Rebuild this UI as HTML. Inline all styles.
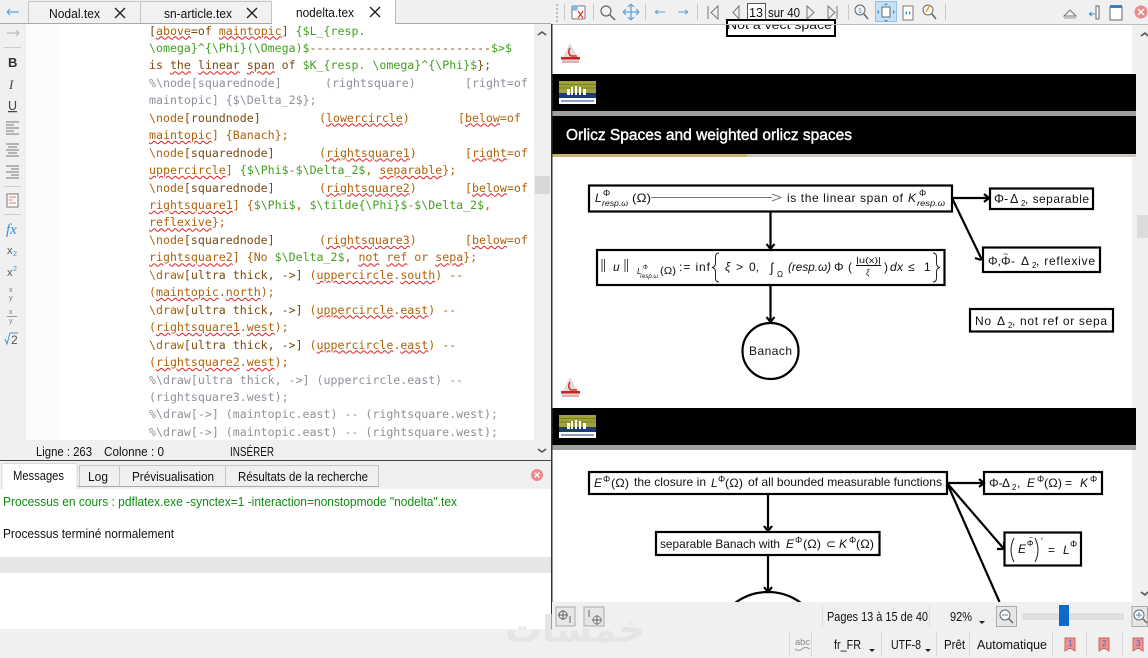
<!DOCTYPE html>
<html><head><meta charset="utf-8"><style>
html,body{margin:0;padding:0;width:1148px;height:658px;overflow:hidden;background:#f0f0f0}
svg{position:absolute;left:0;top:0}
svg svg{position:static}
svg text{font-family:"Liberation Sans",sans-serif}
.u{font-size:13px;fill:#111}
.m{font-size:12px;fill:#111}
.i{font-style:italic}
#ed{position:absolute;left:149px;top:23.5px;width:385px;height:416px;overflow:hidden}
.l{position:absolute;left:0;white-space:pre;font:11.6px/16px "DejaVu Sans Mono",monospace;color:#b0620a;height:17px;overflow:visible}
.l span.a{position:absolute;top:0}
.g{color:#41a020}.c{color:#8d9299}.d{color:#7a4a10}.t{color:#333}
.s{text-decoration:underline wavy #e02020 1px;text-underline-offset:1px}
</style></head><body>
<svg width="1148" height="658" viewBox="0 0 1148 658" xmlns="http://www.w3.org/2000/svg">
<rect width="1148" height="658" fill="#f0f0f0"/>
<!-- LEFT PANE -->
<rect x="26" y="24" width="34" height="416" fill="#fbfbfb"/>
<rect x="60" y="24" width="474" height="416" fill="#fff"/>
<rect x="534" y="24" width="17" height="416" fill="#f0f0f0"/>
<rect x="535" y="176" width="15" height="18" fill="#d8d8d8"/>
<path d="M538 35l4-3 4 3M538 449l4 3 4-3" fill="none" stroke="#555" stroke-width="1.6"/>
<!-- tabs -->
<rect x="28.500" y="1.500" width="243" height="22" fill="#f1f1f1" stroke="#c4c4c4"/>
<line x1="140.500" y1="1" x2="140.500" y2="23" stroke="#c4c4c4"/>
<line x1="0" y1="23.500" x2="551" y2="23.500" stroke="#a8a8a8"/>
<rect x="272" y="0" width="123" height="24" fill="#fff"/>
<line x1="395.500" y1="0" x2="395.500" y2="23" stroke="#bbb"/>
<text x="49" y="18" class="u" textLength="51" lengthAdjust="spacingAndGlyphs">Nodal.tex</text>
<text x="164" y="18" class="u" textLength="68" lengthAdjust="spacingAndGlyphs">sn-article.tex</text>
<text x="296" y="17" class="u" textLength="58" lengthAdjust="spacingAndGlyphs">nodelta.tex</text>
<path d="M115 8l10 10m0-10l-10 10M247 8l10 10m0-10l-10 10M370 7l10 10m0-10l-10 10" stroke="#222" stroke-width="1.4" fill="none"/>
<!-- left toolbar -->
<path d="M7 12h12M7 12l3-3M7 12l3 3" stroke="#5a9fd8" stroke-width="1.2" fill="none"/>
<path d="M7 33h12M19 33l-3-3M19 33l-3 3" stroke="#bbb" stroke-width="1.2" fill="none"/>
<line x1="4" y1="47.500" x2="21" y2="47.500" stroke="#ccc"/>
<text x="8" y="67" font-size="13" font-weight="bold" fill="#333">B</text>
<text x="9" y="89" font-size="13" font-style="italic" fill="#444" style="font-family:'Liberation Serif',serif">I</text>
<text x="8" y="110" font-size="12.500" fill="#444" text-decoration="underline">U</text>
<path d="M6 122h13M6 125h8M6 128h13M6 131h8M6 134h13M6 144h13M8 147h9M6 150h13M8 153h9M6 156h13M6 166h13M11 169h8M6 172h13M11 175h8M6 178h13" stroke="#777" stroke-width="1" fill="none"/>
<line x1="4" y1="186.500" x2="21" y2="186.500" stroke="#ccc"/>
<rect x="7" y="194" width="11" height="13" fill="#fff" stroke="#777"/>
<path d="M9 197h7M9 200h4M9 203h7" stroke="#e07070"/>
<line x1="4" y1="214.500" x2="21" y2="214.500" stroke="#ccc"/>
<text x="6" y="234" font-size="15" font-style="italic" fill="#3a8fd0" style="font-family:'Liberation Serif',serif">fx</text>
<text x="7" y="254" font-size="11" fill="#555">x</text><text x="13" y="256" font-size="7" fill="#4a90d0">2</text>
<text x="7" y="276" font-size="11" fill="#555">x</text><text x="13" y="271" font-size="7" fill="#4a90d0">2</text>
<text x="9" y="292" font-size="7" fill="#777">x</text><text x="9" y="300" font-size="7" fill="#777">y</text>
<text x="9" y="314" font-size="7" fill="#777">x</text><line x1="7" y1="316.500" x2="17" y2="316.500" stroke="#999"/><text x="9" y="323" font-size="7" fill="#777">y</text>
<text x="11" y="344" font-size="12" fill="#555">2</text><path d="M5 339l2 5 3-11h8" fill="none" stroke="#4a90d0"/>
<!-- status + messages -->
<text x="36" y="456" class="u" textLength="56" lengthAdjust="spacingAndGlyphs">Ligne : 263</text>
<text x="104" y="456" class="u" textLength="60" lengthAdjust="spacingAndGlyphs">Colonne : 0</text>
<text x="230" y="456" class="u" textLength="44" lengthAdjust="spacingAndGlyphs">INSÉRER</text>
<rect x="0" y="460" width="552" height="1" fill="#444"/>
<rect x="79.500" y="465.500" width="299" height="21" fill="#f0f0f0" stroke="#c6c6c6"/>
<line x1="119.500" y1="466" x2="119.500" y2="487" stroke="#c6c6c6"/>
<line x1="225.500" y1="466" x2="225.500" y2="487" stroke="#c6c6c6"/>
<line x1="78" y1="486.500" x2="379" y2="486.500" stroke="#aaa"/>
<rect x="2" y="463.500" width="75" height="26" fill="#fff" stroke="#d8d8d8"/>
<text x="13" y="480" class="u" textLength="51" lengthAdjust="spacingAndGlyphs">Messages</text>
<text x="88" y="481" class="u" textLength="20" lengthAdjust="spacingAndGlyphs">Log</text>
<text x="132" y="481" class="u" textLength="82" lengthAdjust="spacingAndGlyphs">Prévisualisation</text>
<text x="238" y="481" class="u" textLength="130" lengthAdjust="spacingAndGlyphs">Résultats de la recherche</text>
<circle cx="537" cy="475" r="6" fill="#ee8a8a"/>
<path d="M534.500 472.500l5 5m0-5l-5 5" stroke="#fff" stroke-width="1.400"/>
<rect x="0" y="489" width="552" height="68" fill="#fff"/>
<rect x="0" y="557" width="552" height="16" fill="#e6e6e6"/>
<rect x="0" y="573" width="552" height="56" fill="#fff"/>
<text x="3" y="506" font-size="12.500" fill="#128a12" textLength="454" lengthAdjust="spacingAndGlyphs">Processus en cours : pdflatex.exe -synctex=1 -interaction=nonstopmode "nodelta".tex</text>
<text x="3" y="538" class="u" textLength="171" lengthAdjust="spacingAndGlyphs">Processus terminé normalement</text>

<!-- PDF PANE -->
<rect x="552" y="24" width="580" height="578" fill="#fff"/>
<rect x="552" y="0" width="596" height="24" fill="#f0f0f0"/>
<rect x="1136" y="25" width="12" height="577" fill="#f0f0f0"/>
<rect x="1137" y="215" width="11" height="23" fill="#dcdcdc"/>
<path d="M1141 36l4-3 3 3M1141 592l4 3 3-3" fill="none" stroke="#555" stroke-width="1.6"/>
<!-- toolbar icons -->
<path d="M557 4v18" stroke="#aaa" stroke-dasharray="2 2" stroke-width="1.500"/>
<g stroke="#c8c8c8"><line x1="564.500" y1="4" x2="564.500" y2="20"/><line x1="593.500" y1="4" x2="593.500" y2="20"/><line x1="645.500" y1="4" x2="645.500" y2="20"/><line x1="697.500" y1="4" x2="697.500" y2="20"/><line x1="848.500" y1="4" x2="848.500" y2="20"/><line x1="945.500" y1="4" x2="945.500" y2="20"/></g>
<rect x="572" y="6" width="13" height="13" rx="1" fill="#fff" stroke="#777"/><path d="M578 11l5 7m-5 0l5-7" stroke="#d33" stroke-width="1.200"/><circle cx="575" cy="8" r="3" fill="#8bb8de"/>
<circle cx="606" cy="11" r="5" fill="none" stroke="#666" stroke-width="1.200"/><path d="M610 15l5 5" stroke="#666" stroke-width="1.500"/>
<path d="M631 5v14M624 12h14M631 4l-3 3m3-3l3 3M631 20l-3-3m3 3l3-3M623 12l3-3m-3 3l3 3M639 12l-3-3m3 3l-3 3" stroke="#5a9fd8" fill="none" stroke-width="1.200"/>
<path d="M655 12h10M655 12l3-2M655 12l3 2M678 12h10M688 12l-3-2M688 12l-3 2" stroke="#5a9fd8" fill="none"/>
<path d="M708 6v13M718 6l-7 6.500 7 6.500zM739 6l-6 6.500 6 6.500zM807 6l7 6.500-7 6.500zM828 6l7 6.500-7 6.500zM837 6v13" stroke="#777" fill="none"/>
<rect x="747.500" y="3.500" width="18" height="17" fill="#fff" stroke="#555"/>
<text x="749" y="17" class="u" textLength="14" lengthAdjust="spacingAndGlyphs">13</text>
<text x="768" y="17" class="u" textLength="32" lengthAdjust="spacingAndGlyphs">sur 40</text>
<circle cx="860" cy="10" r="5" fill="none" stroke="#666"/><path d="M864 14l4 5" stroke="#666" stroke-width="1.500"/><text x="858" y="13" font-size="7" fill="#3a8fd0">1</text>
<rect x="875.500" y="1.500" width="21" height="20" fill="#c6e1f6" stroke="#93c2e8"/>
<rect x="882" y="7" width="8" height="10" fill="#fff" stroke="#666"/><path d="M886 3l-2 2h4zM886 22l-2-2h4zM877 12l2-2v4zM895 12l-2-2v4z" fill="#3a8fd0"/>
<rect x="903" y="6" width="10" height="14" fill="#fff" stroke="#777"/><path d="M905 13l2-2v4zM911 13l-2-2v4z" fill="#3a8fd0"/>
<circle cx="928" cy="10" r="5" fill="#fff" stroke="#666"/><path d="M932 14l4 5" stroke="#666" stroke-width="1.500"/><path d="M926 12l4-7" stroke="#e0a030" stroke-width="1.500"/>
<path d="M1064 16l6-6 6 6z" fill="none" stroke="#777"/><line x1="1064" y1="18" x2="1076" y2="18" stroke="#999"/>
<path d="M1089 14h6M1089 14l3-2M1089 14l3 2" stroke="#3a8fd0" fill="none"/><rect x="1096" y="6" width="3" height="13" fill="#fff" stroke="#666"/>
<rect x="1110" y="7" width="12" height="13" fill="#fff" stroke="#666"/><rect x="1110" y="5" width="12" height="3" fill="#3a7fc0"/>
<circle cx="1141" cy="12" r="6.500" fill="#ee8a8a"/><path d="M1138 9l6 6m0-6l-6 6" stroke="#fff" stroke-width="1.400"/>

<!-- page header 1 -->
<rect x="727" y="20" width="108" height="16" fill="#fff" stroke="#000" stroke-width="2"/>
<svg x="552" y="25" width="580" height="20"><text x="175" y="4" font-size="12" fill="#111" textLength="105" lengthAdjust="spacingAndGlyphs">Not a vect space</text></svg>
<rect x="552" y="24" width="596" height="1" fill="#bdbdbd"/>
<path d="M562 61l8-17 9 17z" fill="#e4dedc" stroke="#c8bcb8" stroke-width=".5"/><path d="M570 48q-3 5 1 8h6" fill="none" stroke="#d03030" stroke-width="1.500"/><rect x="561" y="57" width="19" height="2.500" fill="#cc2222"/><rect x="562" y="61" width="17" height="2" fill="#e0b0b0"/>
<rect x="552" y="74" width="584" height="37" fill="#000"/>
<rect x="552" y="111" width="584" height="5" fill="#a0a0a0"/>
<rect x="552" y="116" width="584" height="38" fill="#000"/>
<rect x="552" y="154" width="195" height="3" fill="#c8b272"/>
<rect x="747" y="154" width="389" height="3" fill="#cdc9bd"/>
<rect x="559" y="81" width="37" height="23" fill="#fff"/><rect x="559" y="81" width="37" height="13" fill="#a0a23a"/><path d="M559 84.500h37M559 88h37" stroke="#7c7e24"/><rect x="559" y="93" width="37" height="5" fill="#1f3a78"/><path d="M567 95v-6h3v6zM571 95v-8h2v8zM575 95v-9h2v9zM579 95v-8h2v8zM583 95v-6h3v6z" fill="#fff"/><rect x="561" y="100" width="33" height="2" fill="#8aa0c0"/>
<text x="566" y="140" font-size="15.500" fill="#fff" stroke="#fff" stroke-width=".4" textLength="286" lengthAdjust="spacing">Orlicz Spaces and weighted orlicz spaces</text>

<!-- DIAGRAM 1 -->
<g fill="none" stroke="#000" stroke-width="2.200">
<path d="M770.500 212v37M770.500 285v37M952 198h37M952 198l30 62"/>
<rect x="589" y="185.500" width="363" height="26" fill="#fff"/>
<rect x="597" y="250" width="347.500" height="35" fill="#fff"/>
<rect x="990" y="188.500" width="103" height="20.500" fill="#fff"/>
<rect x="983" y="247.500" width="117" height="24.500" fill="#fff"/>
<rect x="970" y="309" width="143" height="22.500" fill="#fff"/>
<circle cx="770.500" cy="351" r="28" fill="#fff"/>
<path d="M766.500 244l4 5 4-5M766.500 317l4 5 4-5M984 194l5 4-5 4M975 258l6 2"/>
</g>
<text x="595" y="202" class="m i" font-size="12.500">L</text><text x="603" y="196" font-size="9" fill="#111">Φ</text><text x="602" y="206" font-size="8" class="i" fill="#111" textLength="26" lengthAdjust="spacingAndGlyphs">resp.ω</text>
<text x="632" y="202" class="m" textLength="19" lengthAdjust="spacingAndGlyphs">(Ω)</text>
<line x1="651" y1="197.500" x2="772" y2="197.500" stroke="#777"/><path d="M772 194l9 3.500-9 3.500" fill="none" stroke="#777"/>
<text x="787" y="202" class="m" textLength="116" lengthAdjust="spacing">is the linear span of</text>
<text x="908" y="202" class="m i">K</text><text x="919" y="196" font-size="9" fill="#111">Φ</text><text x="917" y="206" font-size="8" class="i" fill="#111" textLength="28" lengthAdjust="spacingAndGlyphs">resp.ω</text>
<!-- norm -->
<path d="M602 259v13M604.500 259v13M625 259v13M627.500 259v13" stroke="#333" stroke-width=".9"/>
<text x="613" y="271" class="m i">u</text>
<text x="637" y="274" font-size="8" class="i" fill="#111">L</text><text x="643" y="269" font-size="6" fill="#111">Φ</text><text x="640" y="278" font-size="6" class="i" fill="#111" textLength="18" lengthAdjust="spacingAndGlyphs">resp.ω</text>
<text x="660" y="274" font-size="10" fill="#111" textLength="16" lengthAdjust="spacingAndGlyphs">(Ω)</text>
<text x="679" y="271" class="m" textLength="31" lengthAdjust="spacing">:= inf</text>
<path d="M719 253q-3.500 0-3.500 4v6q0 4-3.500 4.500q3.500.5 3.500 4.500v6q0 4 3.500 4M933 253q3.500 0 3.500 4v6q0 4 3.500 4.500q-3.500.5-3.500 4.500v6q0 4-3.500 4" fill="none" stroke="#222"/>
<text x="725" y="271" class="m i">ξ</text><text x="736" y="271" class="m">&gt;</text><text x="749" y="271" class="m">0,</text>
<text x="770" y="272" font-size="13" class="i" fill="#111">∫</text><text x="777" y="277" font-size="8" fill="#111">Ω</text>
<text x="788" y="271" class="m i" textLength="43" lengthAdjust="spacingAndGlyphs">(resp.ω)</text>
<text x="834" y="271" class="m">Φ</text><text x="848" y="271" class="m">(</text>
<text x="856" y="263" font-size="8" fill="#111" textLength="25" lengthAdjust="spacingAndGlyphs">|u(x)|</text><line x1="856" y1="265.500" x2="881" y2="265.500" stroke="#111"/><text x="866" y="275" font-size="8" class="i" fill="#111">ξ</text>
<text x="884" y="271" class="m">)</text><text x="890" y="271" class="m i" textLength="13">dx</text><text x="908" y="271" class="m">≤</text><text x="924" y="271" class="m">1</text>
<!-- right labels -->
<text x="994" y="203" font-size="12.500" fill="#111">Φ-</text><text x="1010" y="203" font-size="12.500" fill="#111">Δ</text><text x="1021" y="206" font-size="8" fill="#111">2</text><text x="1025" y="203" class="m" textLength="64" lengthAdjust="spacing">, separable</text>
<text x="988" y="265" class="m">Φ,</text><text x="1001" y="265" class="m">Φ</text><text x="1003" y="257" font-size="9" fill="#111">~</text><text x="1011" y="265" class="m">-</text><text x="1021" y="265" class="m" font-size="12.500">Δ</text><text x="1032" y="268" font-size="8" fill="#111">2</text><text x="1036" y="265" class="m" textLength="59" lengthAdjust="spacing">, reflexive</text>
<text x="975" y="325" class="m" textLength="16" lengthAdjust="spacing">No</text><text x="997" y="325" class="m" font-size="12.500">Δ</text><text x="1008" y="328" font-size="8" fill="#111">2</text><text x="1012" y="325" class="m" textLength="95" lengthAdjust="spacing">, not ref or sepa</text>
<text x="749" y="355" class="m" textLength="43" lengthAdjust="spacing">Banach</text>

<!-- page 2 -->
<path d="M562 395l8-17 9 17z" fill="#e4dedc" stroke="#c8bcb8" stroke-width=".5"/><path d="M570 382q-3 5 1 8h6" fill="none" stroke="#d03030" stroke-width="1.500"/><rect x="561" y="391" width="19" height="2.500" fill="#cc2222"/><rect x="562" y="395" width="17" height="2" fill="#e0b0b0"/>
<rect x="552" y="408" width="584" height="37" fill="#000"/>
<rect x="552" y="445" width="584" height="5" fill="#a0a0a0"/>
<rect x="559" y="415" width="37" height="23" fill="#fff"/><rect x="559" y="415" width="37" height="13" fill="#a0a23a"/><path d="M559 418.500h37M559 422h37" stroke="#7c7e24"/><rect x="559" y="427" width="37" height="5" fill="#1f3a78"/><path d="M567 429v-6h3v6zM571 429v-8h2v8zM575 429v-9h2v9zM579 429v-8h2v8zM583 429v-6h3v6z" fill="#fff"/><rect x="561" y="434" width="33" height="2" fill="#8aa0c0"/>
<g fill="none" stroke="#000" stroke-width="2.200">
<path d="M947 483h37M947 483l57 66M947 483l52.500 119"/>
<rect x="589" y="472" width="358" height="22" fill="#fff"/>
<rect x="984" y="472" width="118" height="22" fill="#fff"/>
<rect x="656" y="532" width="223.500" height="23" fill="#fff"/>
<rect x="1004.500" y="532.500" width="76.500" height="33" fill="#fff"/>
<path d="M768 494v37M768 555v37"/>
<path d="M764 526l4 5 4-5M764 587l4 5 4-5M979 479l5 4-5 4M997 549h7v-7"/>
<path d="M735 603A55 55 0 0 1 801 603"/>
</g>
<text x="594" y="487" class="m i">E</text><text x="603" y="482" font-size="9" fill="#111">Φ</text>
<text x="611" y="487" class="m" textLength="18" lengthAdjust="spacingAndGlyphs">(Ω)</text>
<text x="634" y="486" class="m" textLength="72" lengthAdjust="spacing">the closure in</text>
<text x="711" y="487" class="m i">L</text><text x="718" y="482" font-size="9" fill="#111">Φ</text><text x="725" y="487" class="m" textLength="18" lengthAdjust="spacingAndGlyphs">(Ω)</text>
<text x="748" y="486" class="m" textLength="194" lengthAdjust="spacingAndGlyphs">of all bounded measurable functions</text>
<text x="989" y="487" class="m">Φ-</text><text x="1002" y="487" class="m">Δ</text><text x="1012" y="490" font-size="8" fill="#111">2</text><text x="1017" y="487" class="m">,</text>
<text x="1027" y="487" class="m i">E</text><text x="1037" y="482" font-size="9" fill="#111">Φ</text><text x="1044" y="487" class="m" textLength="18" lengthAdjust="spacingAndGlyphs">(Ω)</text><text x="1065" y="487" class="m">=</text><text x="1080" y="487" class="m i">K</text><text x="1090" y="482" font-size="9" fill="#111">Φ</text>
<text x="660" y="548" class="m" textLength="120" lengthAdjust="spacingAndGlyphs">separable Banach with</text>
<text x="786" y="548" class="m i">E</text><text x="795" y="543" font-size="9" fill="#111">Φ</text><text x="803" y="548" class="m" textLength="18" lengthAdjust="spacingAndGlyphs">(Ω)</text><text x="826" y="548" class="m">⊂</text><text x="839" y="548" class="m i">K</text><text x="849" y="543" font-size="9" fill="#111">Φ</text><text x="856" y="548" class="m" textLength="18" lengthAdjust="spacingAndGlyphs">(Ω)</text>
<path d="M1014 538q-6 12 0 24M1035 538q6 12 0 24" fill="none" stroke="#222"/>
<text x="1018" y="553" class="m i">E</text><text x="1027" y="546" font-size="8" fill="#111">Φ</text><text x="1029" y="540" font-size="7" fill="#111">~</text>
<text x="1041" y="544" font-size="9" fill="#111">′</text>
<text x="1048" y="554" class="m">=</text><text x="1063" y="554" class="m i">L</text><text x="1070" y="547" font-size="9" fill="#111">Φ</text>

<!-- separator -->
<rect x="551" y="24" width="1.500" height="605" fill="#333"/>
<!-- bottom bar -->
<rect x="552" y="602" width="596" height="56" fill="#f0f0f0"/>
<rect x="0" y="629" width="552" height="29" fill="#f0f0f0"/>
<text x="645" y="642" font-size="37" fill="#e5e5e5" font-weight="bold" style="font-family:'DejaVu Sans',sans-serif" text-anchor="end">خمسات</text>
<rect x="556" y="607" width="19" height="19" fill="#e6e6e6" stroke="#aaa"/><rect x="584" y="607" width="20" height="19" fill="#e6e6e6" stroke="#aaa"/>
<circle cx="563" cy="615" r="4" fill="none" stroke="#666"/><path d="M563 610v10M558 615h10M570 616v7" stroke="#666"/>
<circle cx="597" cy="620" r="4" fill="none" stroke="#888"/><path d="M597 615v10M592 620h10M589 610v7" stroke="#666"/>
<line x1="822.500" y1="606" x2="822.500" y2="626" stroke="#ddd"/><line x1="929.500" y1="606" x2="929.500" y2="626" stroke="#ddd"/>
<text x="827" y="621" class="u" textLength="101" lengthAdjust="spacingAndGlyphs">Pages 13 à 15 de 40</text>
<text x="950" y="621" class="u" textLength="22" lengthAdjust="spacingAndGlyphs">92%</text>
<path d="M979 621h6l-3 3z" fill="#222"/>
<rect x="996.500" y="606.500" width="20" height="20" fill="#e6e6e6" stroke="#aaa"/>
<circle cx="1005" cy="615" r="5" fill="#fff" stroke="#666"/><path d="M1002 615h6" stroke="#3a8fd0"/><path d="M1009 619l4 4" stroke="#666" stroke-width="1.500"/>
<rect x="1023" y="614" width="100" height="5" fill="#e2e2e2" stroke="#d4d4d4"/>
<rect x="1059" y="605" width="10" height="21" fill="#0a6cc8"/>
<rect x="1132" y="606.500" width="15.500" height="20" fill="#e6e6e6" stroke="#aaa"/>
<circle cx="1139" cy="615" r="5" fill="#fff" stroke="#666"/><path d="M1136 615h6M1139 612v6" stroke="#3a8fd0"/><path d="M1143 619l4 4" stroke="#666" stroke-width="1.500"/>
<g stroke="#d8d8d8"><line x1="789.500" y1="632" x2="789.500" y2="656"/><line x1="811.500" y1="632" x2="811.500" y2="656"/><line x1="881.500" y1="632" x2="881.500" y2="656"/><line x1="936.500" y1="632" x2="936.500" y2="656"/><line x1="969.500" y1="632" x2="969.500" y2="656"/><line x1="1052.500" y1="632" x2="1052.500" y2="656"/><line x1="1086.500" y1="632" x2="1086.500" y2="656"/><line x1="1122.500" y1="632" x2="1122.500" y2="656"/></g>
<text x="795" y="645" font-size="9.500" fill="#888" textLength="15" lengthAdjust="spacingAndGlyphs">abc</text><path d="M795 649q4 3 7 0t8 0" stroke="#999" fill="none"/>
<text x="834" y="649" class="u" textLength="27" lengthAdjust="spacingAndGlyphs">fr_FR</text><path d="M869 649h6l-3 3z" fill="#222"/>
<text x="891" y="649" class="u" textLength="30" lengthAdjust="spacingAndGlyphs">UTF-8</text><path d="M925 649h6l-3 3z" fill="#222"/>
<text x="944" y="649" class="u" textLength="21" lengthAdjust="spacingAndGlyphs">Prêt</text>
<text x="977" y="649" class="u" textLength="70" lengthAdjust="spacingAndGlyphs">Automatique</text>
<g fill="#ef8f8f" stroke="#cc6666"><path d="M1065 638h10v13l-5-3-5 3zM1099 638h10v13l-5-3-5 3zM1133 638h10v13l-5-3-5 3z"/></g>
<g fill="#3a6fc0" font-size="8"><text x="1068" y="646">1</text><text x="1102" y="646">2</text><text x="1136" y="646">3</text></g>
</svg>

<div id="ed">
<div class="l" style="top:-1px"><span class="d">[</span><span class="s">above</span><span class="d">=of </span><span class="s">maintopic</span><span class="d">]</span> <span class="g">{$L_{resp.</span></div>
<div class="l" style="top:16.4px"><span class="g">\omega}^{\Phi}(\Omega)$</span><span class="d">--------------------------</span><span class="g">$&gt;$</span></div>
<div class="l" style="top:33.9px"><span class="d">is </span><span class="s d">the</span> <span class="s d">linear</span> <span class="s d">span</span><span class="d"> of </span><span class="g">$K_{resp. \omega}^{\Phi}$</span><span class="d">};</span></div>
<div class="l c" style="top:51.3px">%\node[squarednode]<span class="a" style="left:176px">(rightsquare)</span><span class="a" style="left:316px">[right=of</span></div>
<div class="l c" style="top:68.8px">maintopic] {$\Delta_2$};</div>
<div class="l" style="top:86.2px">\node<span class="d">[roundnode]</span><span class="a" style="left:170px">(<span class="s">lowercircle</span>)</span><span class="a" style="left:309px">[<span class="s">below</span>=of</span></div>
<div class="l" style="top:103.7px"><span class="s">maintopic</span>] {Banach};</div>
<div class="l" style="top:121.1px">\node<span class="d">[squarednode]</span><span class="a" style="left:170px">(<span class="s">rightsquare1</span>)</span><span class="a" style="left:316px">[<span class="s">right</span>=of</span></div>
<div class="l" style="top:138.6px"><span class="s">uppercircle</span>] <span class="g">{$\Phi$</span>-<span class="g">$\Delta_2$</span>, <span class="s">separable</span>};</div>
<div class="l" style="top:156px">\node<span class="d">[squarednode]</span><span class="a" style="left:170px">(<span class="s">rightsquare2</span>)</span><span class="a" style="left:316px">[<span class="s">below</span>=of</span></div>
<div class="l" style="top:173.5px"><span class="s">rightsquare1</span>] {<span class="g">$\Phi$</span>, <span class="g">$\tilde{\Phi}$</span>-<span class="g">$\Delta_2$</span>,</div>
<div class="l" style="top:190.9px"><span class="s">reflexive</span>};</div>
<div class="l" style="top:208.4px">\node<span class="d">[squarednode]</span><span class="a" style="left:170px">(<span class="s">rightsquare3</span>)</span><span class="a" style="left:316px">[<span class="s">below</span>=of</span></div>
<div class="l" style="top:225.8px"><span class="s">rightsquare2</span>] {No <span class="g">$\Delta_2$</span>, <span class="s">not</span> <span class="s">ref</span> or <span class="s">sepa</span>};</div>
<div class="l" style="top:243.3px">\draw<span class="d">[ultra thick, -&gt;]</span> (<span class="s">uppercircle</span>.<span class="s">south</span>) --</div>
<div class="l" style="top:260.7px">(<span class="s">maintopic</span>.<span class="s">north</span>);</div>
<div class="l" style="top:278.2px">\draw<span class="d">[ultra thick, -&gt;]</span> (<span class="s">uppercircle</span>.<span class="s">east</span>) --</div>
<div class="l" style="top:295.6px">(<span class="s">rightsquare1</span>.<span class="s">west</span>);</div>
<div class="l" style="top:313.1px">\draw<span class="d">[ultra thick, -&gt;]</span> (<span class="s">uppercircle</span>.<span class="s">east</span>) --</div>
<div class="l" style="top:330.5px">(<span class="s">rightsquare2</span>.<span class="s">west</span>);</div>
<div class="l c" style="top:348px">%\draw[ultra thick, -&gt;] (uppercircle.east) --</div>
<div class="l c" style="top:365.4px">(rightsquare3.west);</div>
<div class="l c" style="top:382.9px">%\draw[-&gt;] (maintopic.east) -- (rightsquare.west);</div>
<div class="l c" style="top:400.3px">%\draw[-&gt;] (maintopic.east) -- (rightsquare.west);</div>
</div>
</body></html>
